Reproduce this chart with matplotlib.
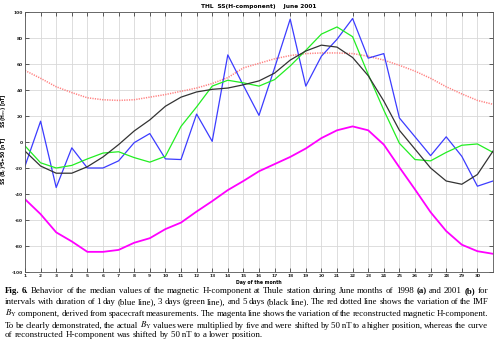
import matplotlib
matplotlib.use("Agg")
import matplotlib.pyplot as plt
import numpy as np

# days of June 2001
days = np.arange(1, 32)

# 1-day median (blue)
blue = [-18.5, 16, -35, -4.5, -20, -20, -14.5, -0.5, 6.5, -13, -13.5, 21.5, 0.5, 67, 43.5,
        20.5, 57, 94.5, 43, 66, 79, 95, 64.5, 68, 18.5, 4, -10.5, 4, -11, -34, -30]
# 3-day median (green)
green = [-3, -16, -20, -18, -13, -8.5, -7.5, -12, -15.5, -11, 12, 27, 43, 47.5, 45.5,
         43, 48, 58.5, 70.5, 83, 88.5, 81, 52, 24.5, -1, -13.5, -14.5, -8, -2.5, -1.5, -8]
# 5-day median (black)
black = [-7, -18.5, -24, -24, -19, -11.5, -2, 8.5, 17, 27.5, 34.5, 38.5, 40.5, 41.5, 44,
         47, 53, 63, 70, 74.5, 73, 65, 51, 31.5, 9, -5.5, -20, -30, -32.5, -25, -7]
# reconstructed H-component (magenta)
magenta = [-44, -55.5, -69.5, -76.5, -84.5, -84.5, -83, -77.5, -74, -67, -62, -53.5, -45.5,
           -37, -30, -22.5, -17, -11.5, -5, 3, 9, 12, 9, -2, -19.5, -36.5, -54, -68.5, -79,
           -84, -86]
# IMF By *5 + 50 (red dotted)
red = [55, 49, 42.5, 38, 34, 32.5, 32, 32.5, 34.5, 36.5, 39, 41.5, 45, 49.5, 57, 60.5, 64,
       66.5, 68, 68.5, 68.5, 68, 66, 63, 59, 54.5, 49, 42.5, 37, 32, 29]

xticks = list(range(1, 31))
yticks = list(range(-100, 101, 20))

caption = [
    "*Fig. *6. Behavior of the median values of the magnetic H-component at Thule station "
    "during June months of 1998 *(a) and 2001 *(b) for",
    "intervals with duration of 1 day (blue line), 3 days (green line), and 5 days (black line). "
    "The red dotted line shows the variation of the IMF",
    "$B_\\mathrm{Y}$ component, derived from spacecraft measurements. The magenta line shows the "
    "variation of the reconstructed magnetic H-component.",
    "To be clearly demonstrated, the actual $B_\\mathrm{Y}$ values were multiplied by five and were "
    "shifted by 50\u2009nT to a higher position, whereas the curve",
    "of reconstructed H-component was shifted by 50\u2009nT to a lower position.",
]

W, H = 500, 340
fig = plt.figure(figsize=(W / 100, H / 100), dpi=100)
ax = fig.add_axes([25 / W, 1 - 272 / H, 468 / W, 260 / H])

ax.plot(days, red, color="#ff8080", lw=1.1, ls=(0, (0.8, 0.8)))
ax.plot(days, blue, color="#3c3cff", lw=0.9)
ax.plot(days, green, color="#22ee22", lw=0.9)
ax.plot(days, black, color="#333333", lw=0.9)
ax.plot(days, magenta, color="#ff00ff", lw=1.3)

ax.set_xlim(1, 31)
ax.set_ylim(-100, 100)
ax.set_xticks(xticks)
ax.set_yticks(yticks)
ax.set_xticklabels([str(d) for d in xticks], fontsize=3.2, fontweight="bold")
ax.set_yticklabels([str(v) for v in yticks], fontsize=3.2, fontweight="bold")
ax.tick_params(direction="in", length=3, width=0.5, top=True, right=True, pad=1.5,
               colors="#222222")
ax.grid(True, color="#d8d8d8", lw=0.6, ls="-")
for s in ax.spines.values():
    s.set_linewidth(0.6)
    s.set_color("#555555")

ax.set_title("THL  SS(H-component)    June 2001", fontsize=4.2, fontweight="bold", pad=3)
ax.set_xlabel("Day of the month", fontsize=3.3, fontweight="bold", labelpad=1.5)
ax.set_ylabel("SS (B$_y$)*5+50 [nT]       SS(H$_{rec}$) [nT]", fontsize=3.3,
              fontweight="bold")
ax.yaxis.set_label_coords(-0.032, 0.51)

# justified caption, word by word
renderer = fig.canvas.get_renderer()
x0, x1 = 5, 488
baselines = [293, 304.5, 316, 327.5, 337]
for i, line in enumerate(caption):
    words = line.split(" ")
    texts = []
    for w in words:
        bold = w.startswith("*")
        w = w.lstrip("*")
        t = fig.text(0, 0, w, fontsize=6.4, family=["Liberation Serif", "DejaVu Serif"],
                     fontweight="bold" if bold else "normal", math_fontfamily="stix",
                     va="baseline", ha="left")
        texts.append(t)
    widths = [t.get_window_extent(renderer).width for t in texts]
    if i < len(caption) - 1:
        gap = (x1 - x0 - sum(widths)) / (len(texts) - 1)
    else:
        gap = 2.2
    x = x0
    for t, wd in zip(texts, widths):
        t.set_position((x / W, 1 - baselines[i] / H))
        x += wd + gap

fig.savefig("out.png", dpi=100)
